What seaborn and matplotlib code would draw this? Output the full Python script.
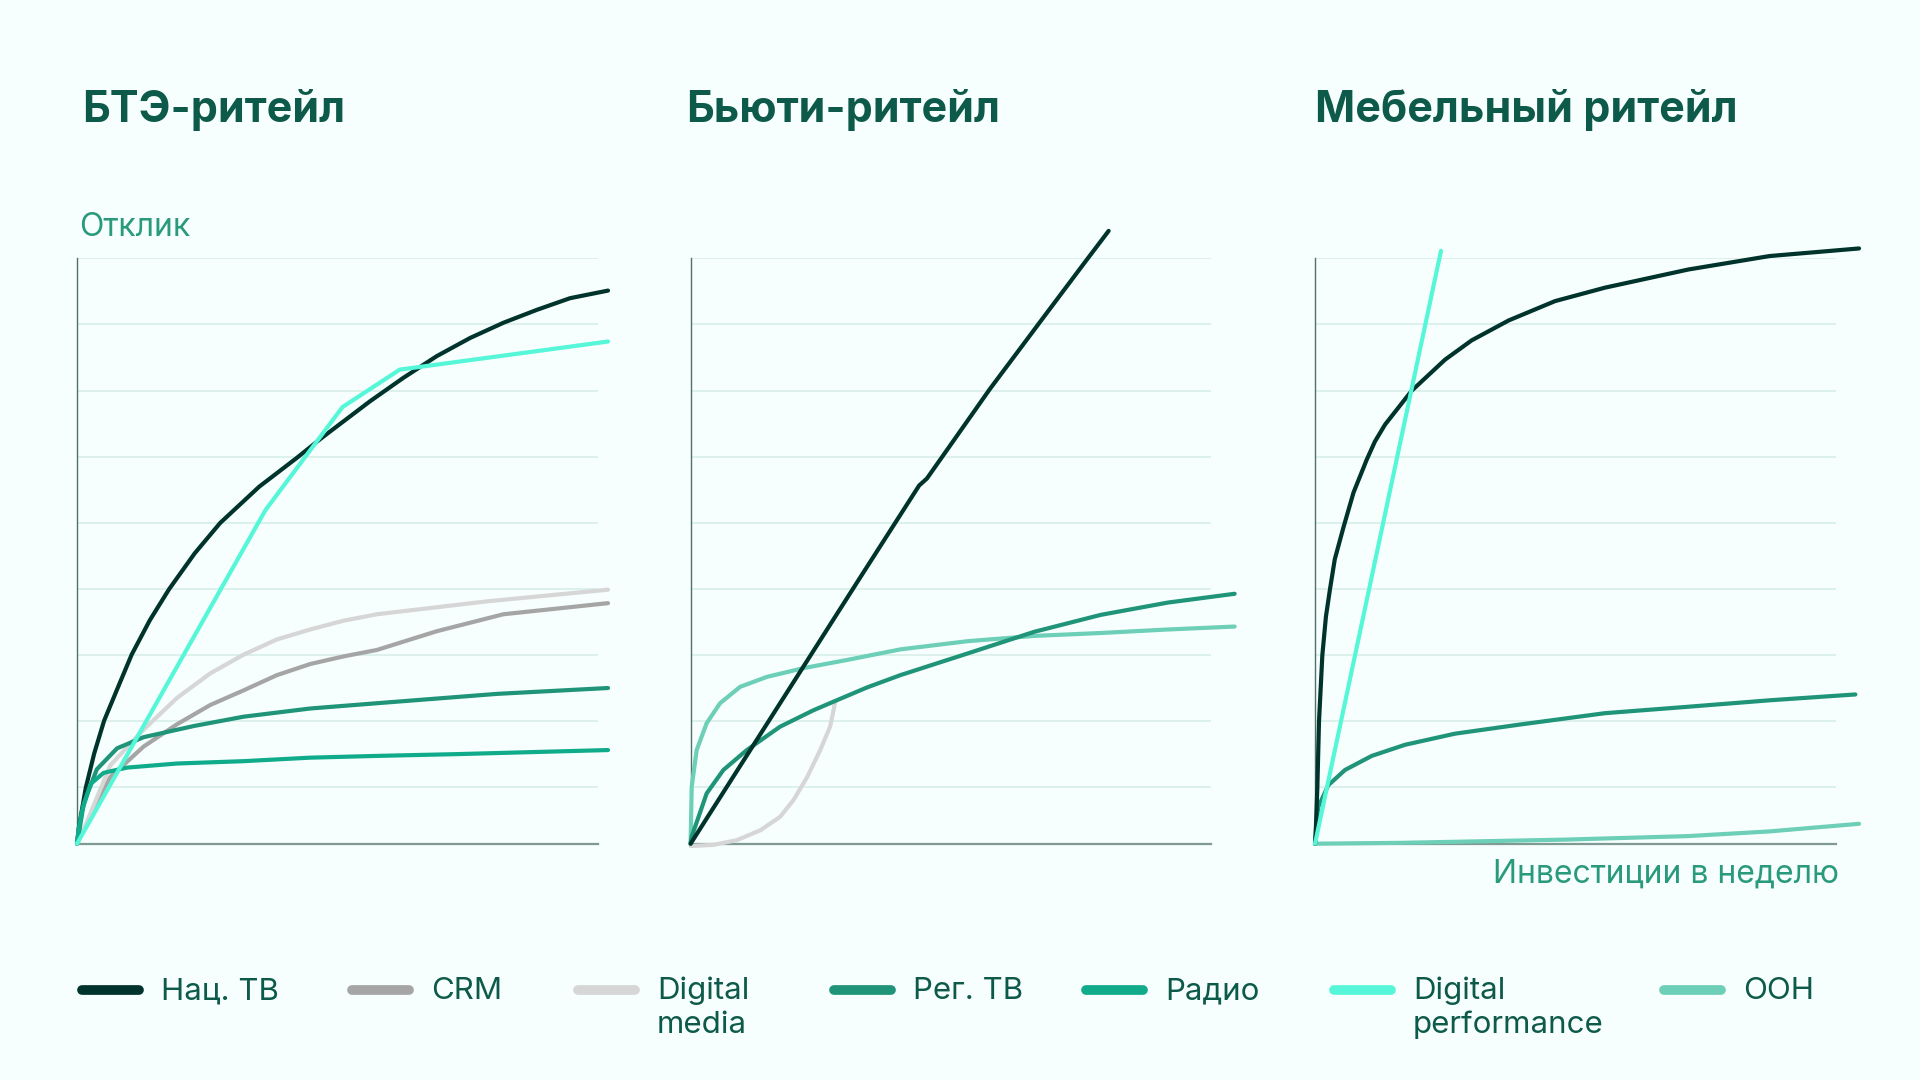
import matplotlib
matplotlib.use("Agg")
import matplotlib.pyplot as plt
import seaborn as sns
import pandas as pd
from matplotlib.lines import Line2D

# ---------------- data ----------------
SERIES = ["Нац. ТВ", "CRM", "Digital media", "Рег. ТВ", "Радио", "Digital performance", "OOH"]
LEGEND_LABELS = ["Нац. ТВ", "CRM", "Digital\nmedia", "Рег. ТВ", "Радио", "Digital\nperformance", "OOH"]
PANEL_TITLES = ["БТЭ-ритейл", "Бьюти-ритейл", "Мебельный ритейл"]
Y_LABEL = "Отклик"
X_LABEL = "Инвестиции в неделю"

# Panel 1: БТЭ-ритейл (x: investment, y: response; 100 = top gridline)
BTE_NAT_TV_X = [0, 0.4, 1.7, 3.3, 5.2, 8.0, 10.5, 14.0, 17.7, 22.6, 27.5, 35.0, 42.2, 47.1, 56.3, 62.7, 69.1, 75.5, 81.9, 88.3, 94.7, 102.0]
BTE_NAT_TV_Y = [0, 3.0, 9.6, 15.4, 21.0, 27.0, 32.3, 38.2, 43.5, 49.6, 54.8, 61.0, 65.9, 69.4, 75.6, 79.6, 83.3, 86.4, 89.0, 91.2, 93.2, 94.5]
BTE_CRM_X = [0, 1.2, 6.4, 12.8, 19.2, 25.6, 32.0, 38.4, 44.8, 51.2, 57.6, 69.1, 81.9, 102.0]
BTE_CRM_Y = [0, 2.2, 11.4, 16.6, 20.4, 23.7, 26.2, 28.8, 30.7, 32.0, 33.1, 36.3, 39.2, 41.1]
BTE_DIGMEDIA_X = [0, 1.2, 6.4, 12.8, 19.2, 25.6, 32.0, 38.4, 44.8, 51.2, 57.6, 78.7, 102.0]
BTE_DIGMEDIA_Y = [0, 2.2, 13.4, 19.5, 24.9, 29.1, 32.3, 34.9, 36.6, 38.1, 39.2, 41.4, 43.4]
BTE_REG_TV_X = [0, 0.26, 1.3, 3.8, 7.7, 12.8, 22.4, 32.0, 44.8, 57.6, 80.7, 102.0]
BTE_REG_TV_Y = [0, 1.2, 6.9, 12.7, 16.3, 18.2, 20.1, 21.7, 23.1, 24.0, 25.6, 26.6]
BTE_RADIO_X = [0, 0.3, 1.0, 2.6, 5.1, 9.6, 19.2, 32.0, 44.8, 57.6, 72.8, 102.0]
BTE_RADIO_Y = [0, 2.5, 5.7, 10.2, 12.1, 13.0, 13.7, 14.1, 14.7, 15.0, 15.3, 16.0]
BTE_DIGPERF_X = [0, 36.2, 51.0, 62.0, 102.0]
BTE_DIGPERF_Y = [0, 57.0, 74.6, 81.0, 85.8]

# Panel 2: Бьюти-ритейл
BEAUTY_NAT_TV_X = [0, 32.3, 43.9, 45.4, 57.5, 68.1, 75.7, 80.3]
BEAUTY_NAT_TV_Y = [0, 45.1, 61.2, 62.4, 77.7, 90.3, 99.3, 104.7]
BEAUTY_DIGMEDIA_X = [0, 4.38, 8.87, 13.4, 17.2, 19.8, 22.4, 24.9, 26.8, 27.8]
BEAUTY_DIGMEDIA_Y = [-0.4, -0.2, 0.6, 2.3, 4.6, 7.5, 11.4, 16.0, 20.0, 24.3]
BEAUTY_REG_TV_X = [0, 0.21, 3.09, 6.3, 10.8, 17.2, 23.6, 27.8, 33.9, 40.3, 53.2, 66.0, 78.8, 91.7, 104.5]
BEAUTY_REG_TV_Y = [0, 1.2, 8.6, 12.6, 16.0, 20.0, 22.8, 24.4, 26.7, 28.8, 32.5, 36.2, 39.1, 41.2, 42.7]
BEAUTY_OOH_X = [0, 0.21, 1.17, 3.09, 5.66, 9.51, 14.65, 21.7, 30.1, 40.3, 53.2, 66.0, 78.8, 91.7, 104.5]
BEAUTY_OOH_Y = [0, 9.74, 16.0, 20.6, 24.0, 26.8, 28.5, 30.0, 31.4, 33.2, 34.6, 35.5, 36.0, 36.6, 37.1]

# Panel 3: Мебельный ритейл
FURN_NAT_TV_X = [0, 0.13, 0.45, 0.77, 1.41, 2.1, 2.88, 3.8, 5.45, 7.4, 9.93, 11.5, 13.45, 18.58, 24.98, 30.1, 37.2, 46.1, 55.7, 71.7, 87.3, 104.5]
FURN_NAT_TV_Y = [0, 1.66, 9.6, 20.9, 32.2, 38.8, 43.5, 48.6, 54.0, 60.0, 65.6, 68.7, 71.6, 77.4, 82.7, 86.0, 89.4, 92.7, 95.0, 98.1, 100.4, 101.7]
FURN_REG_TV_X = [0, 0.2, 0.64, 2.56, 5.77, 10.9, 17.3, 26.9, 39.7, 55.7, 71.7, 87.3, 103.8]
FURN_REG_TV_Y = [0, 2.8, 6.3, 10.0, 12.6, 15.0, 16.9, 18.8, 20.4, 22.3, 23.4, 24.5, 25.5]
FURN_DIGPERF_X = [0, 24.2]
FURN_DIGPERF_Y = [0, 101.3]
FURN_OOH_X = [0, 16.8, 48.2, 71.7, 87.3, 104.5]
FURN_OOH_Y = [0, 0.15, 0.7, 1.3, 2.1, 3.4]

PANELS = [
    [("Нац. ТВ", BTE_NAT_TV_X, BTE_NAT_TV_Y),
     ("CRM", BTE_CRM_X, BTE_CRM_Y),
     ("Digital media", BTE_DIGMEDIA_X, BTE_DIGMEDIA_Y),
     ("Рег. ТВ", BTE_REG_TV_X, BTE_REG_TV_Y),
     ("Радио", BTE_RADIO_X, BTE_RADIO_Y),
     ("Digital performance", BTE_DIGPERF_X, BTE_DIGPERF_Y)],
    [("Digital media", BEAUTY_DIGMEDIA_X, BEAUTY_DIGMEDIA_Y),
     ("OOH", BEAUTY_OOH_X, BEAUTY_OOH_Y),
     ("Рег. ТВ", BEAUTY_REG_TV_X, BEAUTY_REG_TV_Y),
     ("Нац. ТВ", BEAUTY_NAT_TV_X, BEAUTY_NAT_TV_Y)],
    [("OOH", FURN_OOH_X, FURN_OOH_Y),
     ("Рег. ТВ", FURN_REG_TV_X, FURN_REG_TV_Y),
     ("Нац. ТВ", FURN_NAT_TV_X, FURN_NAT_TV_Y),
     ("Digital performance", FURN_DIGPERF_X, FURN_DIGPERF_Y)],
]

# ---------------- style ----------------
COLORS = {
    "Нац. ТВ": "#00332b",
    "CRM": "#a5a5a5",
    "Digital media": "#d6d6d6",
    "Рег. ТВ": "#1f9479",
    "Радио": "#0fab8b",
    "Digital performance": "#55f7d8",
    "OOH": "#6dcfb7",
}
BG = "#f6fffd"
TITLE_C = "#0e5a4a"
LABEL_C = "#2a9a7d"
GRID_C = "#d6ede8"

sns.set_theme(style="white")
plt.rcParams["font.family"] = ["Inter", "Roboto", "DejaVu Sans"]

W, H = 1920, 1080
fig = plt.figure(figsize=(19.2, 10.8), dpi=100, facecolor=BG)

AX_LEFT_PX = [77, 690.6, 1315]
AX_W_PX = 520.6
AX_TOP_PX = 258.4
AX_BOT_PX = 843.7
GRID_STEP = 100 / 8.857
GRID_VALS = [100 - k * GRID_STEP for k in range(9)]

for i, series in enumerate(PANELS):
    ax = fig.add_axes([AX_LEFT_PX[i] / W, 1 - AX_BOT_PX / H, AX_W_PX / W, (AX_BOT_PX - AX_TOP_PX) / H])
    ax.set_facecolor(BG)
    rows = []
    for name, xs, ys in series:
        for k, (x, y) in enumerate(zip(xs, ys)):
            rows.append({"series": name, "x": x, "y": y, "order": k})
    df = pd.DataFrame(rows)
    sns.lineplot(data=df, x="x", y="y", hue="series", palette=COLORS,
                 hue_order=[s[0] for s in series], estimator=None, sort=False,
                 linewidth=3.0, ax=ax, legend=False, clip_on=False, zorder=3,
                 solid_joinstyle="round")
    ax.set_xlim(0, 100)
    ax.set_ylim(0, 100)
    ax.set_yticks(GRID_VALS)
    ax.set_xticks([])
    ax.set_yticklabels([])
    ax.tick_params(length=0)
    ax.grid(axis="y", color=GRID_C, linewidth=1.1, zorder=0)
    ax.grid(axis="x", visible=False)
    ax.set_xlabel("")
    ax.set_ylabel("")
    for s in ["top", "right"]:
        ax.spines[s].set_visible(False)
    ax.spines["left"].set_color("#51706a")
    ax.spines["left"].set_linewidth(1.0)
    ax.spines["bottom"].set_color("#7f9a93")
    ax.spines["bottom"].set_linewidth(1.6)
    ax.spines["left"].set_zorder(1)

    fig.text([82, 686, 1315][i] / W, 1 - 122 / H, PANEL_TITLES[i], fontsize=31,
             fontweight="bold", color=TITLE_C, ha="left", va="baseline")

fig.text(79 / W, 1 - 236 / H, Y_LABEL, fontsize=23, color=LABEL_C, ha="left", va="baseline")
fig.text(1839 / W, 1 - 883 / H, X_LABEL, fontsize=23, color=LABEL_C, ha="right", va="baseline")

# ---------------- legend ----------------
LEG_X_PX = [77, 347, 573, 829, 1081, 1329, 1659]
LEG_Y_PX = 989.5
for lx, name, lab in zip(LEG_X_PX, SERIES, LEGEND_LABELS):
    fig.add_artist(Line2D([(lx + 5) / W, (lx + 62) / W], [1 - LEG_Y_PX / H] * 2,
                          transform=fig.transFigure, color=COLORS[name], linewidth=7,
                          solid_capstyle="round"))
    for j, line in enumerate(lab.split("\n")):
        fig.text((lx + 84) / W, 1 - (999 + 34 * j) / H, line, fontsize=22.5,
                 color=TITLE_C, ha="left", va="baseline")

fig.savefig("out.png", dpi=100, facecolor=BG)
